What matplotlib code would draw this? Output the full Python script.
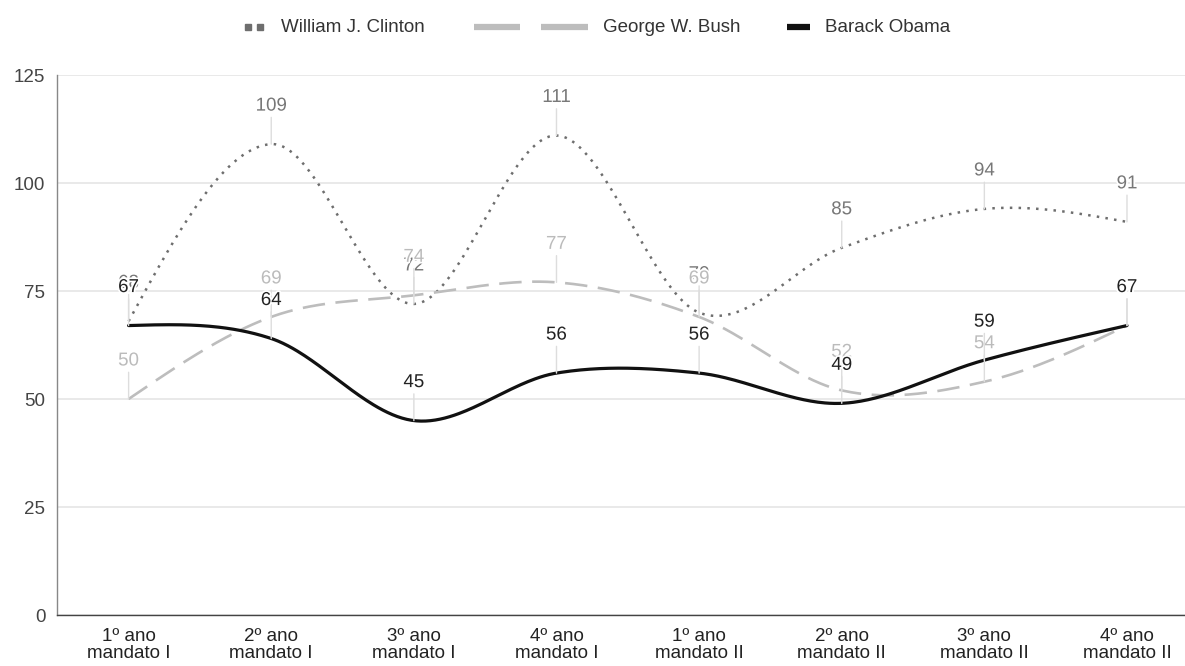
import numpy as np
import matplotlib
matplotlib.use("Agg")
import matplotlib.pyplot as plt
from matplotlib.lines import Line2D
import matplotlib.patheffects as pe

plt.rcParams['font.family'] = ['Liberation Sans', 'DejaVu Sans']

categories = ["1º ano\nmandato I", "2º ano\nmandato I", "3º ano\nmandato I", "4º ano\nmandato I",
              "1º ano\nmandato II", "2º ano\nmandato II", "3º ano\nmandato II", "4º ano\nmandato II"]
clinton = [68, 109, 72, 111, 70, 85, 94, 91]
bush = [50, 69, 74, 77, 69, 52, 54, 67]
obama = [67, 64, 45, 56, 56, 49, 59, 67]
series_names = ["William J. Clinton", "George W. Bush", "Barack Obama"]
y_ticks = [0, 25, 50, 75, 100, 125]

W, H = 1185, 666


def smooth(vals, n=60):
    """Cubic Hermite curve through the points (Catmull-Rom inside, natural ends)."""
    p = np.asarray(vals, float)
    k = len(p)
    m = np.zeros(k)
    m[1:-1] = (p[2:] - p[:-2]) / 2.0
    m[0] = (3 * (p[1] - p[0]) - m[1]) / 2.0
    m[-1] = (3 * (p[-1] - p[-2]) - m[-2]) / 2.0
    xs, ys = [], []
    for i in range(k - 1):
        t = np.linspace(0, 1, n, endpoint=(i == k - 2))
        h00 = 2 * t**3 - 3 * t**2 + 1
        h10 = t**3 - 2 * t**2 + t
        h01 = -2 * t**3 + 3 * t**2
        h11 = t**3 - t**2
        xs.append(i + t)
        ys.append(h00 * p[i] + h10 * m[i] + h01 * p[i + 1] + h11 * m[i + 1])
    return np.concatenate(xs), np.concatenate(ys)


fig = plt.figure(figsize=(W / 100, H / 100), dpi=100)
ax = fig.add_axes([57.3 / W, 51 / H, 1141 / W, 540 / H])
ax.set_xlim(-0.5, 7.5)
ax.set_ylim(0, 125)

# grid and axes
ax.set_yticks(y_ticks)
ax.yaxis.grid(True, color='#e3e3e3', lw=1.1)
ax.set_axisbelow(True)
for s in ['top', 'right']:
    ax.spines[s].set_visible(False)
ax.spines['left'].set_color('#888888')
ax.spines['bottom'].set_color('#444444')
ax.spines['left'].set_linewidth(1)
ax.spines['bottom'].set_linewidth(1)
ax.tick_params(axis='y', length=0, pad=8.5, labelsize=13.5, labelcolor='#444444')
ax.tick_params(axis='x', length=0, pad=9.5, labelsize=13.5, labelcolor='#222222')
ax.set_xticks(range(len(categories)))
ax.set_xticklabels(categories, linespacing=1.02)

x = np.arange(len(categories))

styles = {
    "William J. Clinton": dict(color='#6e6e6e', lw=1.8, ls=(0, (1, 2.5))),
    "George W. Bush": dict(color='#bdbdbd', lw=1.9, ls=(0, (8.5, 4))),
    "Barack Obama": dict(color='#111111', lw=2.3, ls='-'),
}
label_colors = {"William J. Clinton": '#777777', "George W. Bush": '#bbbbbb', "Barack Obama": '#222222'}

data = {"William J. Clinton": clinton, "George W. Bush": bush, "Barack Obama": obama}

for name in series_names:
    sx, sy = smooth(data[name])
    st = styles[name]
    ax.plot(sx, sy, color=st['color'], lw=st['lw'], linestyle=st['ls'],
            solid_capstyle='round', zorder=3)

# value labels with stems
for name in series_names:
    for xi, v in zip(x, data[name]):
        ax.annotate(str(v), xy=(xi, v), xytext=(0, 38), textcoords='offset pixels',
                    ha='center', va='center', fontsize=13.5, color=label_colors[name],
                    path_effects=[pe.withStroke(linewidth=2.5, foreground='white')],
                    arrowprops=dict(arrowstyle='-', color='#dddddd', lw=1,
                                    shrinkA=0, shrinkB=0),
                    zorder=4)


# legend across the top
def fx(px):
    return px / W


def fy(py):
    return 1 - py / H


ly = 27
fs_leg = 13.5
fig.add_artist(Line2D([fx(248), fx(260)], [fy(ly), fy(ly)], transform=fig.transFigure,
                      color='#6e6e6e', lw=0, marker='s', markersize=4.3))
fig.text(fx(281), fy(ly), series_names[0], ha='left', va='center', fontsize=fs_leg, color='#333333')
fig.add_artist(Line2D([fx(474), fx(520)], [fy(ly), fy(ly)], transform=fig.transFigure,
                      color='#bdbdbd', lw=4.5, solid_capstyle='butt'))
fig.add_artist(Line2D([fx(541), fx(588)], [fy(ly), fy(ly)], transform=fig.transFigure,
                      color='#bdbdbd', lw=4.5, solid_capstyle='butt'))
fig.text(fx(603), fy(ly), series_names[1], ha='left', va='center', fontsize=fs_leg, color='#333333')
fig.add_artist(Line2D([fx(787), fx(810)], [fy(ly), fy(ly)], transform=fig.transFigure,
                      color='#111111', lw=4.5, solid_capstyle='butt'))
fig.text(fx(825), fy(ly), series_names[2], ha='left', va='center', fontsize=fs_leg, color='#333333')

fig.savefig("out.png", dpi=100)
